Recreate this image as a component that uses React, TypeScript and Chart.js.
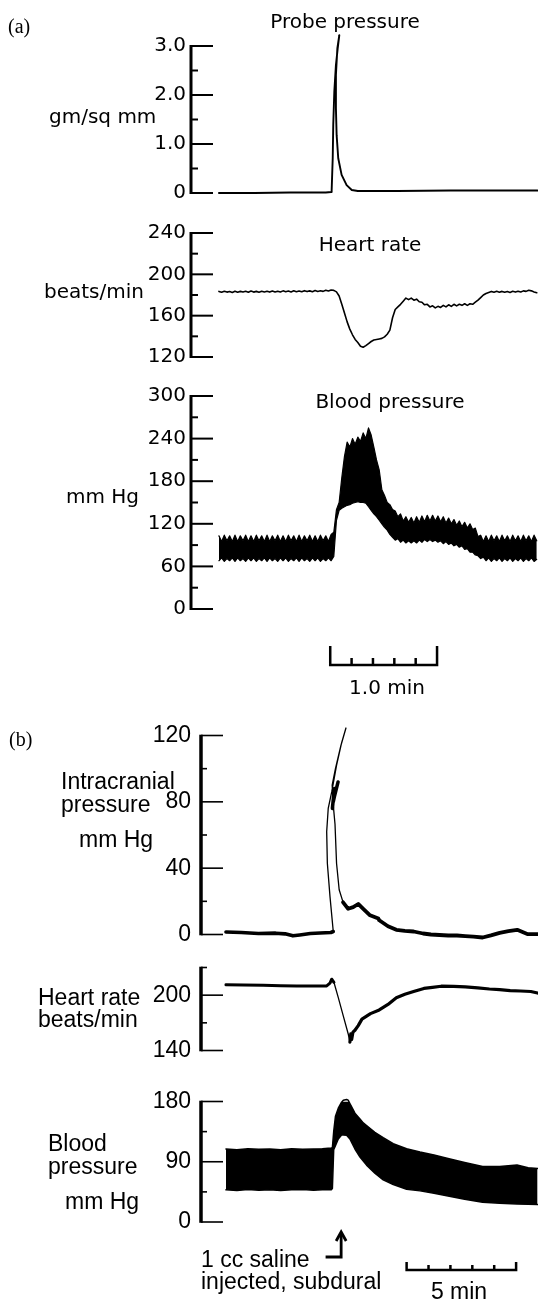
import React, { useEffect, useRef } from "react";
import { Chart, registerables } from "chart.js";
Chart.register(...registerables);

const FONT_A = "'DejaVu Sans', sans-serif";
const FONT_B = "'Liberation Sans', Arial, sans-serif";
const FONT_SERIF = "'Liberation Serif', 'Times New Roman', serif";

// ================= Panel (a): time in seconds =================
const aSampleStep = 1.5; // seconds between samples of the sampled traces
const aTimeRange = [-15.7, 179.2];
const aScaleBar = [62.5, 122.5]; // 1.0 min

// Probe pressure (gm/sq mm) — traced path (loop at the spike)
const aProbeTime = [0, 20, 40, 60, 63.0, 63.3, 63.9, 64.2, 64.8, 65.7, 66.7, 67.6, 66.5, 65.7, 65.7, 66.1, 67.0, 68.9, 71.7, 74.6, 78, 100, 130, 160, 179];
const aProbeValue = [0.0, 0.0, 0.01, 0.01, 0.02, 0.05, 0.71, 1.39, 2.07, 2.61, 2.95, 3.22, 2.95, 2.41, 1.73, 1.18, 0.71, 0.37, 0.16, 0.06, 0.04, 0.04, 0.05, 0.05, 0.05];

// Heart rate (beats/min), sampled every aSampleStep seconds
const aHeartRate = [
  183.5, 182.6, 183.6, 182.8, 183.4, 182.5, 183.7, 182.7, 183.5, 182.9,
  183.6, 182.6, 183.8, 182.8, 183.5, 182.7, 183.7, 182.9, 183.6, 182.8,
  183.9, 183.0, 183.7, 182.9, 184.0, 183.1, 183.8, 183.0, 184.1, 183.2,
  183.9, 183.1, 184.2, 183.3, 184.0, 183.2, 184.3, 183.4, 184.1, 183.5,
  184.6, 183.8, 184.8,
  184.5, 183, 179, 171, 162.5, 154, 147, 141.5, 137, 134,
  130.5, 129.5, 131, 133, 135, 136.5, 137, 137.5, 138, 139.5,
  142, 146, 158, 166, 168.5, 171, 174, 177, 175.5, 177,
  175, 176, 173.5, 173, 170.5, 171, 168.5, 169.5, 167.5, 169,
  168, 170, 168.5, 170.5, 169, 171, 169.5, 171, 170, 171.5,
  170, 171.5, 171, 173, 175, 177.5, 180, 181.5, 182.5, 183.5,
  182.6, 183.6, 182.7, 183.5, 182.6, 183.4, 182.5, 183.6, 182.8, 183.7,
  182.9, 184.0, 183.5, 184.6, 184.0, 183.0, 182.2,
];

// Blood pressure (mm Hg): systolic / diastolic envelopes, sampled every aSampleStep seconds
const aBpSystolic = [
  103, 95, 104, 96, 103, 95, 104, 95, 103, 96,
  104, 95, 103, 95, 104, 96, 103, 95, 104, 95,
  103, 96, 104, 95, 103, 95, 104, 96, 103, 95,
  104, 95, 103, 96, 104, 95, 103, 95, 104, 96,
  103, 95, 105,
  108, 140, 150, 185, 215, 235, 228, 240, 232, 242,
  236, 248, 240, 255, 245, 228, 210, 196, 168, 160,
  150, 147, 140, 138, 130, 134, 124, 130, 122, 129,
  121, 130, 122, 131, 123, 132, 124, 132, 124, 131,
  123, 130, 121, 128, 120, 126, 118, 124, 116, 122,
  114, 120, 112, 114, 102, 104, 95,
  103, 95, 104, 96, 103, 95, 104, 96, 103, 95,
  104, 96, 103, 95, 104, 96, 103, 95, 104, 96,
];
const aBpDiastolic = [
  68, 72, 67, 71, 68, 72, 67, 72, 68, 71,
  67, 72, 68, 72, 67, 71, 68, 72, 67, 72,
  68, 71, 67, 72, 68, 72, 67, 71, 68, 72,
  67, 72, 68, 71, 67, 72, 68, 72, 67, 71,
  68, 72, 68,
  74, 125, 139, 142, 144, 146, 147, 149, 150, 151,
  150, 150, 149, 144, 139, 134, 130, 125, 120, 115,
  111, 105, 101, 97, 99, 94, 97, 93, 96, 93,
  96, 93, 97, 94, 98, 95, 98, 95, 97, 94,
  96, 92, 95, 91, 93, 89, 91, 87, 89, 84,
  85, 80, 80, 76, 75, 71, 73, 68, 72,
  67, 71, 68, 72, 67, 71, 68, 72, 67, 71,
  68, 72, 67, 71, 68, 72, 67, 70,
];

// ================= Panel (b): time in minutes =================
const bTimeRange = [-1.14, 14.25];
const bScaleBar = [8.25, 13.25]; // 5 min
const bInjectionArrow = [4.55, 5.26]; // stub start, arrow shaft

// Intracranial pressure (mm Hg)
const bIcpBaseTime = [0, 0.7, 1.48, 2.27, 2.7, 3.06, 3.37, 3.85, 4.3, 4.79, 4.9];
const bIcpBaseValue = [1.5, 1.2, 0.6, 0.8, 0.4, -0.8, -0.3, 0.6, 0.9, 1.2, 1.8];
const bIcpLoopTime = [4.9, 4.75, 4.63, 4.6, 4.67, 4.83, 5.05, 5.28, 5.48, 5.25, 5.0, 4.85, 4.9, 4.98, 5.05, 5.17, 5.35];
const bIcpLoopValue = [1.8, 23, 43, 62, 76, 86, 102, 115.5, 124.5, 114, 100, 90, 78, 66.5, 43, 27, 19.4];
const bIcpBlobTime = [4.86, 4.95, 4.9, 5.0, 4.93, 5.12];
const bIcpBlobValue = [76, 88, 80, 86, 82, 92];
const bIcpTailTime = [5.35, 5.58, 5.81, 6.04, 6.27, 6.58, 6.96, 7.0, 7.4, 7.78, 8.17, 8.57, 9.0, 9.36, 9.75, 10.15, 10.55, 10.93, 11.3, 11.72, 12.1, 12.5, 12.9, 13.3, 13.76, 14.23];
const bIcpTailValue = [19.4, 15.5, 16.5, 18.4, 15.5, 11.6, 9.6, 8.6, 5, 2.8, 2.2, 1.8, 0.6, 0, -0.3, -0.6, -0.6, -1, -1.3, -1.8, -0.5, 1, 2, 2.8, 0.3, 0.2];

// Heart rate (beats/min)
const bHrBaseTime = [0, 0.8, 1.7, 2.5, 3.23, 4.0, 4.6, 4.75, 4.83, 4.93];
const bHrBaseValue = [211.3, 211, 210.7, 210.3, 210, 210, 210, 213, 217.3, 214];
const bHrDropTime = [4.93, 5.13, 5.36, 5.59, 5.66];
const bHrDropValue = [214, 197.3, 177.3, 157.3, 149];
const bHrRecoveryTime = [5.66, 5.7, 5.74, 5.8, 5.89, 6.04, 6.21, 6.6, 7.0, 7.4, 7.78, 8.17, 8.57, 9.04, 9.43, 9.83, 10.4, 10.93, 11.5, 12.03, 12.5, 12.98, 13.45, 13.92, 14.23];
const bHrRecoveryValue = [149, 158, 152, 160, 162, 167, 174, 180, 184, 190, 197.3, 201, 204, 207.3, 208.5, 209.7, 209.5, 209, 208, 206.7, 206, 205, 204.5, 204, 202.3];

// Blood pressure (mm Hg) envelopes
const bBpTime = [0, 0.5, 1, 1.5, 2, 2.5, 3, 3.5, 4, 4.4, 4.8, 4.86, 4.92, 5.0, 5.13, 5.28, 5.36, 5.51, 5.58, 5.66, 5.74, 5.89, 6.12, 6.27, 6.42, 6.8, 7.18, 7.64, 8.25, 8.86, 9.5, 10.14, 10.9, 11.72, 12.5, 13.29, 13.8, 14.23];
const bBpTop = [109, 108, 109.5, 108.5, 109, 108, 109.5, 108.5, 109, 109.5, 110.5, 111, 135, 158, 170, 179, 182, 183, 182, 177, 172, 162.5, 154, 148, 144, 134, 126, 117, 109.5, 104.5, 100, 95, 89, 83, 83, 85, 81, 80];
const bBpBottom = [48, 47, 48.5, 47.5, 48, 47, 48, 48.5, 47.5, 48, 48, 50, 108, 114, 124, 129.8, 130, 129.5, 127, 124, 119, 109, 97, 91, 85, 73, 63, 56, 49, 46.5, 43, 39, 34, 29.5, 28, 27, 26.5, 26];

// ================= helpers =================
const pairs = (xs: number[], ys: number[]) => xs.map((x, i) => ({ x, y: ys[i] }));
const sampled = (ys: number[], step: number) => ys.map((y, i) => ({ x: i * step, y }));

type AxisSpec = {
  min: number; max: number; step: number;
  majors: number[]; longTicks: number[];
  fmt: (v: number) => string;
  axisX: number; labelPad: number; font: string; fontSize: number;
  axisW: number; tickW: number; longLen: number; shortLen: number;
};

const near = (list: number[], v: number) => list.some((m) => Math.abs(m - v) < 1e-6);

function axisPlugin(spec: AxisSpec, extra?: (chart: any) => void) {
  return {
    id: "axisTicks",
    afterDraw(chart: any) {
      const ctx = chart.ctx;
      const ys = chart.scales.y;
      const x0 = chart.chartArea.left;
      ctx.save();
      ctx.strokeStyle = "#000";
      ctx.lineCap = "butt";
      ctx.lineWidth = spec.axisW;
      const yTop = ys.getPixelForValue(spec.max);
      const yBot = ys.getPixelForValue(spec.min);
      ctx.beginPath();
      ctx.moveTo(x0, yTop - spec.tickW / 2);
      ctx.lineTo(x0, yBot + spec.tickW / 2);
      ctx.stroke();
      ctx.lineWidth = spec.tickW;
      ys.ticks.forEach((t: any) => {
        const y = ys.getPixelForValue(t.value);
        const len = near(spec.longTicks, t.value) ? spec.longLen : spec.shortLen;
        ctx.beginPath();
        ctx.moveTo(x0, y);
        ctx.lineTo(x0 + len, y);
        ctx.stroke();
      });
      ctx.restore();
      if (extra) extra(chart);
    },
  };
}

function drawScaleBar(chart: any, range: number[], divisions: number, yPx: number, endLen: number, minorLen: number, lw: number) {
  const xs = chart.scales.x;
  const ctx = chart.ctx;
  const x0 = xs.getPixelForValue(range[0]);
  const x1 = xs.getPixelForValue(range[1]);
  ctx.save();
  ctx.strokeStyle = "#000";
  ctx.lineWidth = lw;
  ctx.lineJoin = "miter";
  ctx.beginPath();
  ctx.moveTo(x0, yPx - endLen);
  ctx.lineTo(x0, yPx);
  ctx.lineTo(x1, yPx);
  ctx.lineTo(x1, yPx - endLen);
  ctx.stroke();
  for (let k = 1; k < divisions; k++) {
    const x = xs.getPixelForValue(range[0] + ((range[1] - range[0]) * k) / divisions);
    ctx.beginPath();
    ctx.moveTo(x, yPx);
    ctx.lineTo(x, yPx - minorLen);
    ctx.stroke();
  }
  ctx.restore();
}

function makeOptions(spec: AxisSpec, xRange: number[], padTop: number, padBottom: number) {
  return {
    animation: false,
    responsive: false,
    maintainAspectRatio: false,
    events: [],
    layout: { padding: { left: 0, right: 0, top: padTop, bottom: padBottom } },
    plugins: { legend: { display: false }, tooltip: { enabled: false } },
    elements: {
      point: { radius: 0 },
      line: { tension: 0, borderColor: "#000", borderJoinStyle: "round", borderCapStyle: "round" },
    },
    scales: {
      x: { type: "linear", display: false, min: xRange[0], max: xRange[1] },
      y: {
        type: "linear",
        min: spec.min,
        max: spec.max,
        afterFit: (s: any) => { s.width = spec.axisX; },
        grid: { display: false, drawTicks: false },
        border: { display: false },
        ticks: {
          stepSize: spec.step,
          autoSkip: false,
          padding: spec.labelPad,
          color: "#000",
          font: { family: spec.font, size: spec.fontSize, lineHeight: 1 },
          callback: (v: any) => (near(spec.majors, Number(v)) ? spec.fmt(Number(v)) : ""),
        },
      },
    },
  };
}

const lineDs = (data: any[], width: number, extra: any = {}) => ({
  data, borderColor: "#000", borderWidth: width, pointRadius: 0, fill: false, clip: false, ...extra,
});

const aAxisCommon = { axisX: 191, labelPad: 5, font: FONT_A, fontSize: 20, axisW: 3, tickW: 2, longLen: 22, shortLen: 7 };
const bAxisCommon = { axisX: 201, labelPad: 10, font: FONT_B, fontSize: 23, axisW: 3.5, tickW: 1.6, longLen: 22, shortLen: 6 };

type Panel = { top: number; height: number; build: () => any };

const panels: Panel[] = [
  {
    top: 26, height: 183,
    build: () => {
      const spec: AxisSpec = { ...aAxisCommon, min: 0, max: 3, step: 0.5, majors: [0, 1, 2, 3], longTicks: [0, 1, 2, 3], fmt: (v) => (v === 0 ? "0" : v.toFixed(1)) };
      return { type: "line", data: { datasets: [lineDs(pairs(aProbeTime, aProbeValue), 1.9)] }, options: makeOptions(spec, aTimeRange, 20, 16), plugins: [axisPlugin(spec)] };
    },
  },
  {
    top: 215, height: 160,
    build: () => {
      const spec: AxisSpec = { ...aAxisCommon, min: 120, max: 240, step: 20, majors: [120, 160, 200, 240], longTicks: [120, 160, 200, 240], fmt: (v) => String(v) };
      return { type: "line", data: { datasets: [lineDs(sampled(aHeartRate, aSampleStep), 1.6)] }, options: makeOptions(spec, aTimeRange, 18, 18), plugins: [axisPlugin(spec)] };
    },
  },
  {
    top: 378, height: 322,
    build: () => {
      const spec: AxisSpec = { ...aAxisCommon, min: 0, max: 300, step: 30, majors: [0, 60, 120, 180, 240, 300], longTicks: [0, 60, 120, 180, 240, 300], fmt: (v) => String(v) };
      return {
        type: "line",
        data: {
          datasets: [
            lineDs(sampled(aBpSystolic, aSampleStep), 1.2),
            lineDs(sampled(aBpDiastolic, aSampleStep), 1.2, { fill: "-1", backgroundColor: "#000" }),
          ],
        },
        options: makeOptions(spec, aTimeRange, 18, 91),
        plugins: [axisPlugin(spec, (c) => drawScaleBar(c, aScaleBar, 5, 287, 19, 7, 2.5))],
      };
    },
  },
  {
    top: 714, height: 242,
    build: () => {
      const spec: AxisSpec = { ...bAxisCommon, min: 0, max: 120, step: 20, majors: [0, 40, 80, 120], longTicks: [0, 40, 80, 120], fmt: (v) => String(v) };
      return {
        type: "line",
        data: {
          datasets: [
            lineDs(pairs(bIcpBaseTime, bIcpBaseValue), 3.6),
            lineDs(pairs(bIcpLoopTime, bIcpLoopValue), 1.3),
            lineDs(pairs(bIcpBlobTime, bIcpBlobValue), 3.5),
            lineDs(pairs(bIcpTailTime, bIcpTailValue), 3.8),
          ],
        },
        options: makeOptions(spec, bTimeRange, 20, 18),
        plugins: [axisPlugin(spec)],
      };
    },
  },
  {
    top: 946, height: 126,
    build: () => {
      const spec: AxisSpec = { ...bAxisCommon, min: 140, max: 230, step: 30, majors: [140, 200], longTicks: [140, 200], fmt: (v) => String(v) };
      return {
        type: "line",
        data: {
          datasets: [
            lineDs(pairs(bHrBaseTime, bHrBaseValue), 3),
            lineDs(pairs(bHrDropTime, bHrDropValue), 1.3),
            lineDs(pairs(bHrRecoveryTime, bHrRecoveryValue), 3.2),
          ],
        },
        options: makeOptions(spec, bTimeRange, 18, 18),
        plugins: [axisPlugin(spec)],
      };
    },
  },
  {
    top: 1080, height: 221,
    build: () => {
      const spec: AxisSpec = { ...bAxisCommon, min: 0, max: 180, step: 45, majors: [0, 90, 180], longTicks: [0, 90, 180], fmt: (v) => String(v) };
      const extra = (c: any) => {
        drawScaleBar(c, bScaleBar, 5, 190, 8, 5, 2.5);
        const xs = c.scales.x;
        const ctx = c.ctx;
        const xa = xs.getPixelForValue(bInjectionArrow[1]);
        const xs0 = xs.getPixelForValue(bInjectionArrow[0]);
        ctx.save();
        ctx.strokeStyle = "#000";
        ctx.lineWidth = 2.8;
        ctx.lineJoin = "miter";
        ctx.beginPath();
        ctx.moveTo(xs0, 177);
        ctx.lineTo(xa, 177);
        ctx.lineTo(xa, 153);
        ctx.stroke();
        ctx.beginPath();
        ctx.moveTo(xa - 5, 161);
        ctx.lineTo(xa, 152);
        ctx.lineTo(xa + 5, 161);
        ctx.stroke();
        ctx.restore();
      };
      return {
        type: "line",
        data: {
          datasets: [
            lineDs(pairs(bBpTime, bBpTop), 1.5),
            lineDs(pairs(bBpTime, bBpBottom), 1.5, { fill: "-1", backgroundColor: "#000" }),
          ],
        },
        options: makeOptions(spec, bTimeRange, 18, 79),
        plugins: [axisPlugin(spec, extra)],
      };
    },
  },
];

type LabelProps = { text: string; x: number; y: number; size: number; family: string; center?: boolean };
function Label({ text, x, y, size, family, center }: LabelProps) {
  return (
    <div
      style={{
        position: "absolute",
        left: x,
        top: y,
        transform: center ? "translate(-50%, -50%)" : "translateY(-50%)",
        fontFamily: family,
        fontSize: size,
        lineHeight: 1,
        whiteSpace: "nowrap",
        color: "#000",
      }}
    >
      {text}
    </div>
  );
}

const labels: LabelProps[] = [
  { text: "(a)", x: 8, y: 26, size: 20, family: FONT_SERIF },
  { text: "Probe pressure", x: 345, y: 21, size: 20, family: FONT_A, center: true },
  { text: "gm/sq mm", x: 49, y: 116, size: 20, family: FONT_A },
  { text: "Heart rate", x: 370, y: 244, size: 20, family: FONT_A, center: true },
  { text: "beats/min", x: 44, y: 291, size: 20, family: FONT_A },
  { text: "Blood pressure", x: 390, y: 401, size: 20, family: FONT_A, center: true },
  { text: "mm Hg", x: 66, y: 496, size: 20, family: FONT_A },
  { text: "1.0 min", x: 387, y: 687, size: 20, family: FONT_A, center: true },
  { text: "(b)", x: 9, y: 739, size: 20, family: FONT_SERIF },
  { text: "Intracranial", x: 61, y: 781, size: 23, family: FONT_B },
  { text: "pressure", x: 61, y: 804, size: 23, family: FONT_B },
  { text: "mm Hg", x: 79, y: 839, size: 23, family: FONT_B },
  { text: "Heart rate", x: 38, y: 997, size: 23, family: FONT_B },
  { text: "beats/min", x: 38, y: 1019, size: 23, family: FONT_B },
  { text: "Blood", x: 48, y: 1143, size: 23, family: FONT_B },
  { text: "pressure", x: 48, y: 1166, size: 23, family: FONT_B },
  { text: "mm Hg", x: 65, y: 1201, size: 23, family: FONT_B },
  { text: "1 cc saline", x: 201, y: 1259, size: 23, family: FONT_B },
  { text: "injected, subdural", x: 201, y: 1281, size: 23, family: FONT_B },
  { text: "5 min", x: 459, y: 1291, size: 23, family: FONT_B, center: true },
];

export default function App() {
  const refs = useRef<(HTMLCanvasElement | null)[]>([]);
  useEffect(() => {
    const charts = panels.map((p, i) => new Chart(refs.current[i] as HTMLCanvasElement, p.build()));
    return () => charts.forEach((c) => c.destroy());
  }, []);
  return (
    <div style={{ position: "absolute", left: 0, top: 0, width: 538, height: 1301, background: "#fff", overflow: "hidden" }}>
      {panels.map((p, i) => (
        <canvas
          key={i}
          ref={(el) => { refs.current[i] = el; }}
          width={538}
          height={p.height}
          style={{ position: "absolute", left: 0, top: p.top, width: 538, height: p.height }}
        />
      ))}
      {labels.map((l, i) => (
        <Label key={i} {...l} />
      ))}
    </div>
  );
}
